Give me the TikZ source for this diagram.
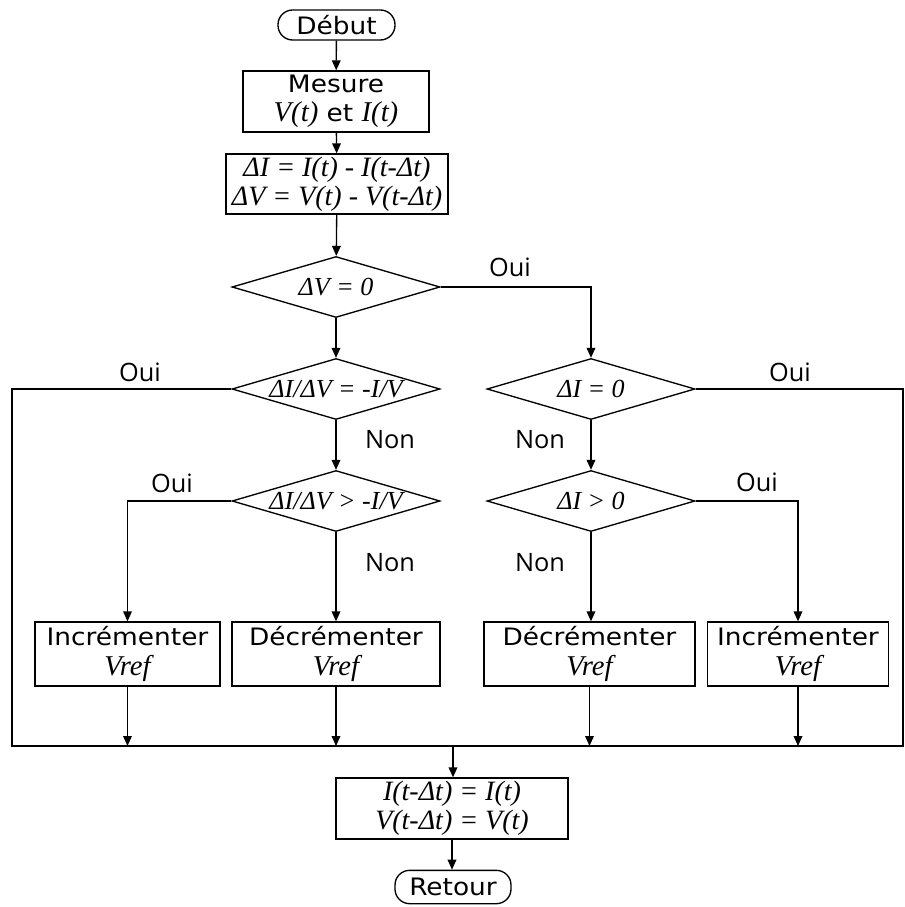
\documentclass[tikz,border=0pt]{standalone}
\usepackage{fontspec}
\setmainfont{Liberation Serif}
\newfontfamily\comic[FakeStretch=1.1]{DejaVu Sans}
\newfontfamily\gill{Open Sans}
\usetikzlibrary{shapes.geometric,arrows.meta}
\newcommand{\mt}[1]{{\rmfamily\fontsize{21.5pt}{22pt}\selectfont\itshape #1}}
\begin{document}
\begin{tikzpicture}[x=0.75pt,y=-0.75pt,
  line width=1pt,
  arr/.style={-{Triangle[length=7.5pt,width=6.5pt]}},
  txt/.style={font=\comic\fontsize{18pt}{21pt}\selectfont},
  boxa/.style={draw,rectangle,align=center,inner sep=0pt,txt},
  term/.style={draw,rectangle,rounded corners=11pt,inner sep=0pt,txt},
  dec/.style={draw,diamond,inner sep=0pt,minimum width=156pt,minimum height=45.75pt},
  dtxt/.style={inner sep=0pt,font=\rmfamily\fontsize{19.5pt}{22pt}\selectfont\itshape},
  mbox/.style={draw,rectangle,align=center,inner sep=0pt,font=\rmfamily\fontsize{21pt}{22pt}\selectfont\itshape},
  lab/.style={font=\gill\fontsize{19pt}{22pt}\selectfont,inner sep=0pt}]
\useasboundingbox (0,0) rectangle (905,907);

\node[term,minimum width=87.75pt,minimum height=22.5pt] (debut) at (336.5,25) {Début};
\node[boxa,minimum width=139.5pt,minimum height=45.75pt] (mesure) at (336,101.5) {Mesure\\[1pt]\mt{V(t)} et \mt{I(t)}};
\node[mbox,minimum width=166.5pt,minimum height=45pt] (delta) at (337,184) {ΔI = I(t) - I(t-Δt)\\ΔV = V(t) - V(t-Δt)};

\node[dec] (d1) at (336,287) {};
\node[dec] (d2) at (336,389) {};
\node[dec] (d3) at (336,501) {};
\node[dec] (d4) at (591,389) {};
\node[dec] (d5) at (591,501) {};
\node[dtxt] (t1) at (d1) {ΔV = 0};
\node[dtxt] (t2) at (d2) {ΔI/ΔV = -I/V};
\node[dtxt] (t3) at (d3) {ΔI/ΔV > -I/V};
\node[dtxt] (t4) at (d4) {ΔI = 0};
\node[dtxt] (t5) at (d5) {ΔI > 0};

\node[boxa,minimum width=138.75pt,minimum height=48pt] (b1) at (127.5,654) {Incrémenter\\[2pt]\mt{Vref}};
\node[boxa,minimum width=156pt,minimum height=48pt] (b2) at (336,654) {Décrémenter\\[2pt]\mt{Vref}};
\node[boxa,minimum width=158.25pt,minimum height=48pt] (b3) at (589.5,654) {Décrémenter\\[2pt]\mt{Vref}};
\node[boxa,minimum width=135.75pt,minimum height=48pt] (b4) at (798,654) {Incrémenter\\[2pt]\mt{Vref}};

\node[mbox,minimum width=174pt,minimum height=45.75pt] (fin) at (452,808.5) {I(t-Δt) = I(t)\\V(t-Δt) = V(t)};
\node[term,minimum width=87pt,minimum height=25pt] (retour) at (453,887) {Retour};

\coordinate (busL) at (12,746);
\coordinate (busR) at (903,746);
\coordinate (busM) at (453,746);

\node[lab] (o1) at (510,267) {Oui};
\node[lab] (o2) at (140,372) {Oui};
\node[lab] (o3) at (790,372) {Oui};
\node[lab] (o4) at (172,483) {Oui};
\node[lab] (o5) at (757,482) {Oui};
\node[lab] (n1) at (390,440) {Non};
\node[lab] (n2) at (540,440) {Non};
\node[lab] (n3) at (390,563) {Non};
\node[lab] (n4) at (540,563) {Non};

\draw[arr] (debut) -- (mesure);
\draw[arr] (mesure) -- (delta);
\draw[arr] (delta) -- (d1);
\draw[arr] (d1) -- (d2);
\draw[arr] (d1.east) -| (d4.north);
\draw (d2.west) -| (busL) -- (busR) |- (d4.east);
\draw[arr] (d2) -- (d3);
\draw[arr] (d4) -- (d5);
\draw[arr] (d3.west) -| (b1.north);
\draw[arr] (d3.south) -- (b2.north);
\draw[arr] (d5.south) -- (d5.south |- b3.north);
\draw[arr] (d5.east) -| (b4.north);
\draw[arr] (b1.south) -- (b1.south |- busL);
\draw[arr] (b2.south) -- (b2.south |- busL);
\draw[arr] (b3.south) -- (b3.south |- busL);
\draw[arr] (b4.south) -- (b4.south |- busL);
\draw[arr] (busM) -- (busM |- fin.north);
\draw[arr] (fin.south) -- (fin.south |- retour.north);
\end{tikzpicture}
\end{document}
